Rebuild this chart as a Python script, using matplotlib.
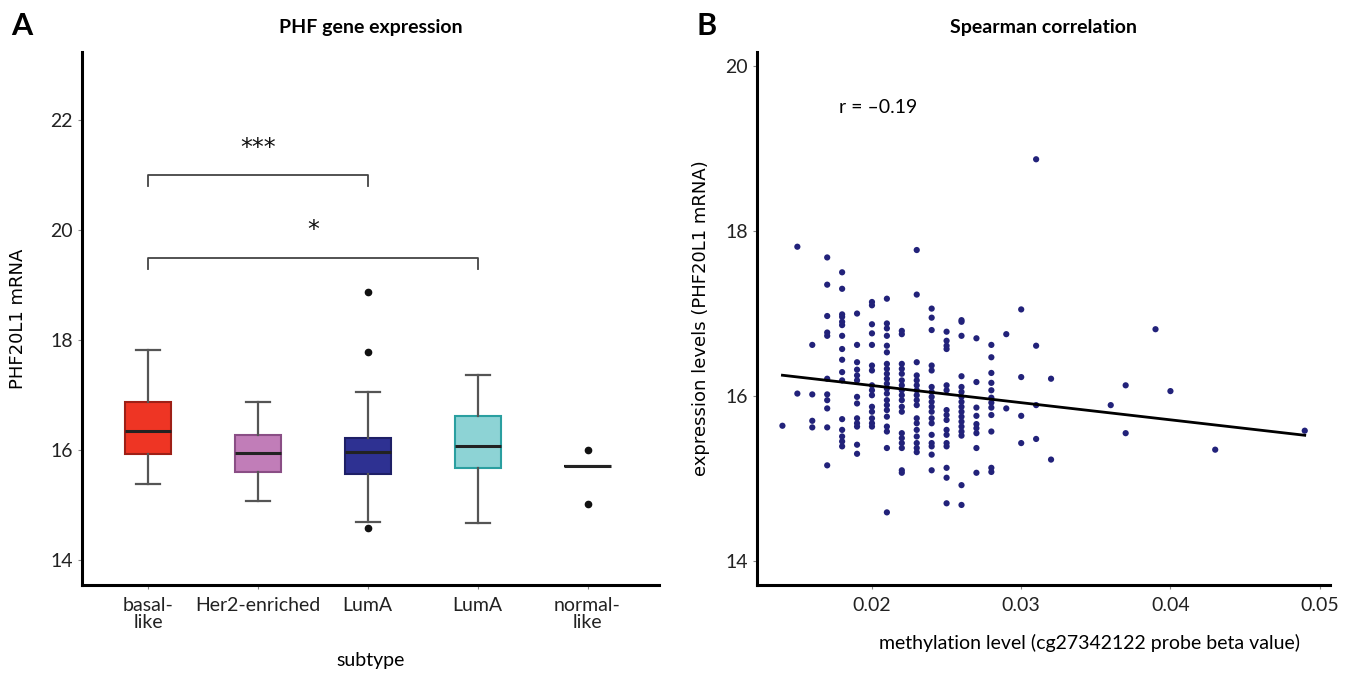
import numpy as np
import matplotlib.pyplot as plt
from matplotlib import font_manager

FIG_SIZE = (13.49, 6.73)

# narrow font if available, else Lato
names = {f.name for f in font_manager.fontManager.ttflist}
if 'DejaVu Sans Condensed' in names:
    NARROW = ['DejaVu Sans Condensed', 'DejaVu Sans']
else:
    NARROW = ['Lato', 'DejaVu Sans']

# ---------------- panel A : box plot data ----------------
subtypes = ["basal-\nlike", "Her2-enriched", "LumA", "LumA", "normal-\nlike"]
box_q1 = [15.93, 15.60, 15.57, 15.67, 15.72]
box_med = [16.35, 15.95, 15.97, 16.07, 15.72]
box_q3 = [16.87, 16.27, 16.22, 16.63, 15.72]
whisker_lo = [15.38, 15.07, 14.70, 14.68, 15.72]
whisker_hi = [17.82, 16.87, 17.06, 17.37, 15.72]
outliers = [[], [], [14.58, 17.78, 18.88], [], [16.00, 15.02]]
box_fill = ["#EE3524", "#C17DB8", "#2E3192", "#8DD3D5", "none"]
box_edge = ["#9E1F16", "#8A4E85", "#1E1F66", "#2A9FA0", "black"]

# significance brackets: (from, to, height, label)
brackets = [(1, 3, 21.0, "***"), (1, 4, 19.5, "*")]

# ---------------- panel B : scatter data ----------------
# methylation beta value -> expression values in that column
meth_cols = {
    0.014: [15.64],
    0.015: [17.81, 16.03],
    0.016: [16.62, 16.02, 15.70, 15.62],
    0.017: [17.68, 17.35, 16.97, 16.77, 16.73, 16.21, 16.02, 15.95, 15.85, 15.62, 15.16],
    0.018: [17.50, 17.30, 16.99, 16.96, 16.90, 16.86, 16.73, 16.57, 16.44, 16.29, 16.19,
            15.72, 15.59, 15.51, 15.45, 15.39],
    0.019: [17.00, 16.62, 16.41, 16.32, 16.25, 16.19, 15.99, 15.91, 15.73, 15.67, 15.63,
            15.41, 15.30],
    0.020: [17.14, 17.10, 16.87, 16.76, 16.62, 16.37, 16.31, 16.13, 16.07, 16.01, 15.87,
            15.81, 15.73, 15.67, 15.63],
    0.021: [17.18, 16.88, 16.82, 16.73, 16.61, 16.53, 16.39, 16.33, 16.27, 16.21, 16.15,
            16.09, 16.03, 15.95, 15.89, 15.83, 15.75, 15.63, 15.57, 15.37, 14.59],
    0.022: [16.79, 16.75, 16.39, 16.33, 16.27, 16.19, 16.13, 16.07, 16.01, 15.95, 15.87,
            15.81, 15.55, 15.49, 15.43, 15.37, 15.10, 15.07],
    0.023: [17.77, 17.23, 16.41, 16.25, 16.19, 16.13, 16.07, 16.01, 15.95, 15.89, 15.73,
            15.67, 15.59, 15.51, 15.43, 15.37, 15.32],
    0.024: [17.06, 16.95, 16.80, 16.37, 16.31, 16.11, 16.05, 15.99, 15.93, 15.87, 15.81,
            15.73, 15.67, 15.53, 15.43, 15.39, 15.29, 15.10],
    0.025: [16.78, 16.67, 16.61, 16.57, 16.13, 16.07, 15.83, 15.77, 15.71, 15.59, 15.53,
            15.43, 15.39, 15.13, 15.01, 14.70],
    0.026: [16.92, 16.90, 16.73, 16.24, 16.11, 16.05, 15.99, 15.93, 15.87, 15.81, 15.75,
            15.69, 15.63, 15.57, 15.52, 14.92, 14.68],
    0.027: [16.70, 16.17, 15.86, 15.76, 15.66, 15.61, 15.55, 15.37, 15.07],
    0.028: [16.62, 16.47, 16.28, 16.16, 16.07, 15.98, 15.92, 15.86, 15.77, 15.57, 15.13, 15.08],
    0.029: [16.75, 15.85],
    0.030: [17.05, 16.23, 15.76, 15.43],
    0.031: [18.87, 16.61, 15.89, 15.48],
    0.032: [16.21, 15.23],
    0.036: [15.89],
    0.037: [16.13, 15.55],
    0.039: [16.81],
    0.040: [16.06],
    0.043: [15.35],
    0.049: [15.58],
}
r_text = "r = \u20130.19"

meth = np.array([m for m, ys in meth_cols.items() for _ in ys])
expr = np.array([y for ys in meth_cols.values() for y in ys])

fig = plt.figure(figsize=FIG_SIZE, dpi=100)

# ###############################################
# A. box plot
# ###############################################
axA = fig.add_axes([0.0608, 0.1308, 0.4277, 0.7919])
stats = []
for i in range(len(subtypes)):
    stats.append({"med": box_med[i], "q1": box_q1[i], "q3": box_q3[i],
                  "whislo": whisker_lo[i], "whishi": whisker_hi[i],
                  "fliers": outliers[i]})
pos = np.arange(1, len(subtypes) + 1)
bp = axA.bxp(stats, positions=pos, widths=0.42, patch_artist=True, showfliers=True,
             whiskerprops=dict(color='#555555', lw=1.6),
             capprops=dict(color='#555555', lw=1.6),
             medianprops=dict(color='#222222', lw=2.2),
             flierprops=dict(marker='o', markerfacecolor='#111111', markeredgecolor='#111111',
                             markersize=4.5))
for i, box in enumerate(bp['boxes']):
    box.set_facecolor(box_fill[i])
    box.set_edgecolor(box_edge[i])
    box.set_linewidth(1.5)
# caps narrower than boxes
for i, cap in enumerate(bp['caps']):
    cap.set_xdata([pos[i // 2] - 0.11, pos[i // 2] + 0.11])
# normal-like has a collapsed box: hide whiskers/caps
for j in (8, 9):
    bp['whiskers'][j].set_visible(False)
    bp['caps'][j].set_visible(False)

for x0, x1, h, lab in brackets:
    axA.plot([x0, x0, x1, x1], [h - 0.2, h, h, h - 0.2], color='#444444', lw=1.3)
    axA.text((x0 + x1) / 2, h + 0.28, lab, ha='center', va='bottom', fontsize=17,
             color='#111111')

axA.set_xlim(0.4, 5.65)
axA.set_ylim(13.55, 23.24)
axA.set_yticks([14, 16, 18, 20, 22])
axA.set_xticks(pos)
axA.set_xticklabels(subtypes, linespacing=0.95)
axA.set_title('PHF gene expression', fontsize=14, fontweight='bold', pad=14,
              family=NARROW)
axA.set_ylabel('PHF20L1 mRNA', fontsize=13, family='DejaVu Sans')
axA.yaxis.set_label_coords(-0.095, 0.5)
axA.set_xlabel('subtype', fontsize=14, family=NARROW)
axA.xaxis.set_label_coords(0.5, -0.125)

# ###############################################
# B. scatter + fit
# ###############################################
axB = fig.add_axes([0.5612, 0.1308, 0.4248, 0.7919])
axB.scatter(meth, expr, s=20, color='#22227A', edgecolor='none', zorder=3)
k, b = np.polyfit(meth, expr, 1)
xf = np.array([meth.min(), meth.max()])
axB.plot(xf, k * xf + b, color='black', lw=2, zorder=4)
axB.text(0.0178, 19.5, r_text, fontsize=14, va='center', ha='left', family=NARROW)
axB.set_xlim(0.0123, 0.0507)
axB.set_ylim(13.71, 20.17)
axB.set_yticks([14, 16, 18, 20])
axB.set_xticks([0.02, 0.03, 0.04, 0.05])
axB.set_xticklabels(['0.02', '0.03', '0.04', '0.05'])
axB.set_title('Spearman correlation', fontsize=14, fontweight='bold', pad=14,
              family=NARROW)
axB.set_ylabel('expression levels (PHF20L1 mRNA)', fontsize=13, family='DejaVu Sans')
axB.yaxis.set_label_coords(-0.082, 0.5)
axB.set_xlabel('methylation level (cg27342122 probe beta value)', fontsize=14,
               family=NARROW)
axB.xaxis.set_label_coords(0.58, -0.092)

for ax in (axA, axB):
    for s in ('top', 'right'):
        ax.spines[s].set_visible(False)
    for s in ('left', 'bottom'):
        ax.spines[s].set_linewidth(2.2)
        ax.spines[s].set_color('black')
    ax.tick_params(length=3, width=0.8, color='#888888', labelsize=14)
    ax.tick_params(axis='x', pad=6)
    for t in ax.get_xticklabels() + ax.get_yticklabels():
        t.set_family(NARROW)
        t.set_color('#222222')

fig.text(0.008, 0.962, 'A', fontsize=22, fontweight='bold', va='center', family=NARROW)
fig.text(0.516, 0.962, 'B', fontsize=22, fontweight='bold', va='center', family=NARROW)

fig.savefig('out.png', dpi=100)
